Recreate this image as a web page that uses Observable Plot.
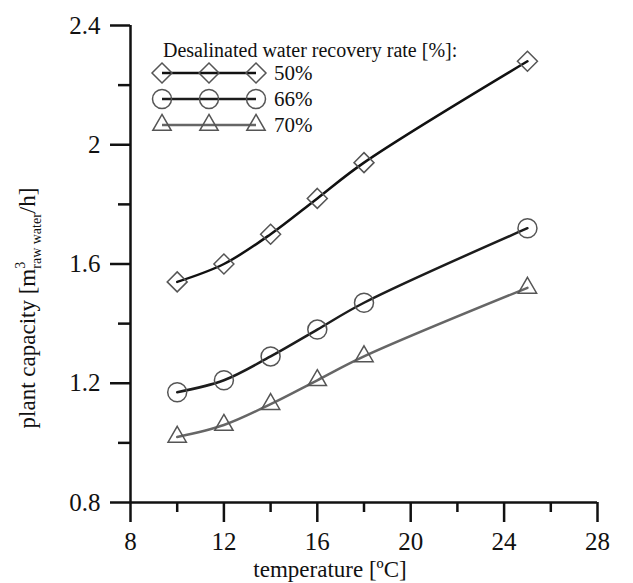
<!DOCTYPE html>
<html><head><meta charset="utf-8">
<script src="https://cdn.jsdelivr.net/npm/d3@7"></script>
<script src="https://cdn.jsdelivr.net/npm/@observablehq/plot@0.6"></script>
<style>
body{margin:0;background:#fff}
#chart{position:relative;width:633px;height:583px}
</style>
</head><body><div id="chart"></div>
<script>
// ---- data ----
const temperature = [10, 12, 14, 16, 18, 25];
const rate50 = [1.54, 1.60, 1.70, 1.82, 1.94, 2.28];
const rate66 = [1.17, 1.21, 1.29, 1.38, 1.47, 1.72];
const rate70 = [1.02, 1.06, 1.13, 1.21, 1.29, 1.52];
const seriesNames = ["50%", "66%", "70%"];
const xMajorTicks = [8, 12, 16, 20, 24, 28];
const xMinorTicks = [10, 14, 18, 22, 26];
const yMajorTicks = [0.8, 1.2, 1.6, 2.0, 2.4];
const yMinorTicks = [1.0, 1.4, 1.8, 2.2];
const yTickLabels = ["0.8", "1.2", "1.6", "2", "2.4"];
const legendTitle = "Desalinated water recovery rate [%]:";
const xLabel = "temperature [ºC]";

// ---- styles ----
const lineColors = ["#111", "#1c1c1c", "#666"];
const symbols = ["diamond2", "circle", "triangle"];
const radii = [9, 9.5, 6.8];
const markerStroke = "#555";
const font = "'Liberation Serif', 'Times New Roman', serif";

const allValues = [rate50, rate66, rate70];
const data = [];
seriesNames.forEach((s, si) => temperature.forEach((t, i) => data.push({series: s, t, v: allValues[si][i]})));

const axisCommon = {strokeWidth: 2.5, fontSize: 25, label: null};

const dotMarks = seriesNames.map((s, si) => Plot.dot(data.filter(d => d.series === s), {
  x: "t", y: "v", symbol: "series", r: radii[si], stroke: markerStroke, strokeWidth: 1.5, fill: "none"
}));

const svg = Plot.plot({
  width: 633, height: 583,
  marginLeft: 130, marginRight: 36, marginTop: 25, marginBottom: 81,
  style: {fontFamily: font, fontSize: "25px", color: "#111", background: "#fff"},
  x: {domain: [8, 28]},
  y: {domain: [0.8, 2.4]},
  color: {domain: seriesNames, range: lineColors},
  symbol: {domain: seriesNames, range: symbols},
  marks: [
    Plot.axisX({...axisCommon, ticks: xMajorTicks, tickSize: 20, tickPadding: 10, tickFormat: d => String(d)}),
    Plot.axisX({...axisCommon, ticks: xMinorTicks, tickSize: 10, tickFormat: () => ""}),
    Plot.axisY({...axisCommon, ticks: yMajorTicks, tickSize: 20, tickPadding: 10,
      tickFormat: d => yTickLabels[yMajorTicks.findIndex(v => Math.abs(v - d) < 1e-9)]}),
    Plot.axisY({...axisCommon, ticks: yMinorTicks, tickSize: 12, tickFormat: () => ""}),
    Plot.ruleY([0.8], {strokeWidth: 2.5, stroke: "#111"}),
    Plot.ruleX([8], {strokeWidth: 2.5, stroke: "#111"}),
    Plot.line(data, {x: "t", y: "v", z: "series", stroke: "series", curve: "catmull-rom", strokeWidth: 2.5}),
    ...dotMarks
  ]
});

const root = d3.select(svg);

// x label
root.append("text")
  .attr("x", 330).attr("y", 577)
  .attr("text-anchor", "middle")
  .style("font-family", font).style("font-size", "23px").attr("fill", "#111")
  .text(xLabel);

// y label with super/subscript
const yl = root.append("text")
  .attr("transform", "translate(35,308) rotate(-90)")
  .attr("text-anchor", "middle")
  .style("font-family", font).style("font-size", "23px").attr("fill", "#111");
yl.append("tspan").text("plant capacity [m");
yl.append("tspan").attr("dy", -10).style("font-size", "14px").text("3");
yl.append("tspan").attr("dx", -7).attr("dy", 16).style("font-size", "14px").text("raw water");
yl.append("tspan").attr("dy", -6).text("/h]");

// legend
const lg = root.append("g").attr("text-anchor", "start");
lg.append("text").attr("x", 163).attr("y", 57).attr("text-anchor", "start")
  .style("font-family", font).style("font-size", "20px").attr("fill", "#111")
  .text(legendTitle);
const rowY = [73, 99, 125];
const symbolTypes = {diamond2: d3.symbolDiamond2, circle: d3.symbolCircle, triangle: d3.symbolTriangle};
seriesNames.forEach((s, i) => {
  const y = rowY[i];
  lg.append("line").attr("x1", 162).attr("x2", 256).attr("y1", y).attr("y2", y)
    .attr("stroke", lineColors[i]).attr("stroke-width", 2.5);
  [162, 209, 256].forEach(x => {
    lg.append("path")
      .attr("d", d3.symbol(symbolTypes[symbols[i]], radii[i] * radii[i] * Math.PI)())
      .attr("transform", `translate(${x},${y})`)
      .attr("fill", "none").attr("stroke", markerStroke).attr("stroke-width", 1.5);
  });
  lg.append("text").attr("x", 274).attr("y", y).attr("dy", "0.35em").attr("text-anchor", "start")
    .style("font-family", font).style("font-size", "21px").attr("fill", "#111")
    .text(s);
});

document.getElementById("chart").appendChild(svg);
</script>
</body></html>
